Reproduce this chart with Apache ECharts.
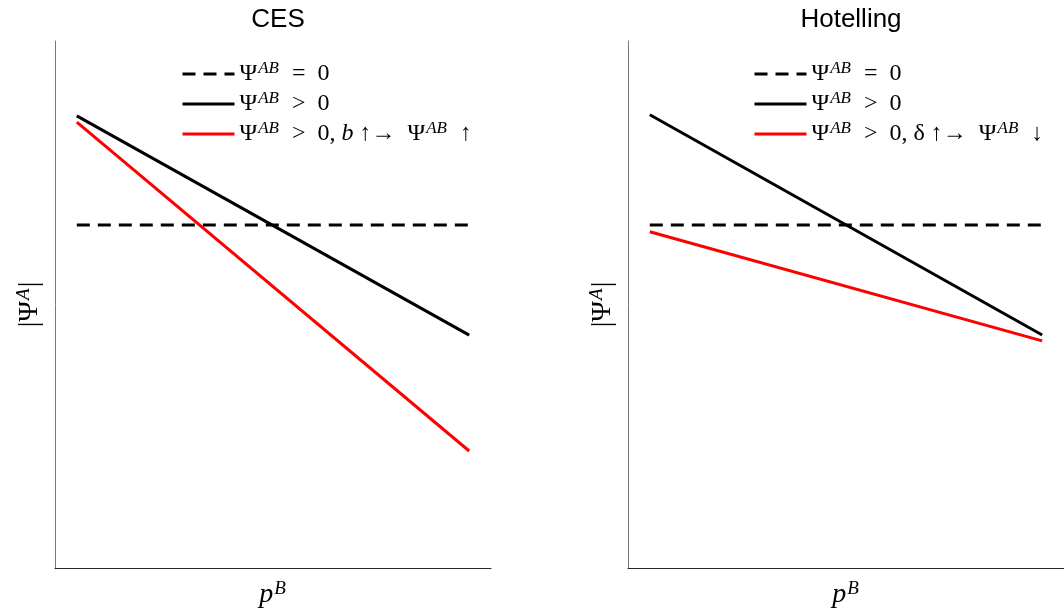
<!DOCTYPE html>
<html>
<head>
<meta charset="utf-8">
<script src="https://cdn.jsdelivr.net/npm/echarts@6/dist/echarts.min.js"></script>
<style>html,body{margin:0;padding:0;background:#fff}#c{width:1064px;height:616px}</style>
</head>
<body>
<div id="c"></div>
<script>
// ---- data ----
const panelTitles = ['CES', 'Hotelling'];
const xPos = [0.05, 0.95];
const cesZero = [0.651, 0.651];
const cesPos = [0.858, 0.442];
const cesRed = [0.846, 0.222];
const hotZero = [0.651, 0.651];
const hotPos = [0.860, 0.442];
const hotRed = [0.638, 0.431];
const legendNames = ['zero', 'pos', 'cesRed', 'hotRed'];
const legendTexts = {
  zero: '{n|Ψ}{s|AB}{n|  =  0}',
  pos: '{n|Ψ}{s|AB}{n|  >  0}',
  cesRed: '{n|Ψ}{s|AB}{n|  >  0, }{i|b}{n| ↑→  Ψ}{s|AB}{n|  ↑}',
  hotRed: '{n|Ψ}{s|AB}{n|  >  0, δ ↑→  Ψ}{s|AB}{n|  ↓}'
};

const serif = 'Liberation Serif';
const rich = {
  n: {fontFamily: serif, fontSize: 24, color: '#000', lineHeight: 28},
  i: {fontFamily: serif, fontSize: 24, fontStyle: 'italic', color: '#000', lineHeight: 28},
  s: {fontFamily: serif, fontSize: 17, fontStyle: 'italic', color: '#000', verticalAlign: 'top', lineHeight: 28, padding: [0, 1, 10, 1]}
};
const richAxis = {
  n: {fontFamily: serif, fontSize: 28, color: '#000', lineHeight: 32},
  i: {fontFamily: serif, fontSize: 28, fontStyle: 'italic', color: '#000', lineHeight: 32},
  s: {fontFamily: serif, fontSize: 19, fontStyle: 'italic', color: '#000', verticalAlign: 'top', lineHeight: 32, padding: [0, 1, 12, 1]}
};

function pairs(ys) { return xPos.map((x, k) => [x, ys[k]]); }

const grids = [
  {left: 55, top: 41, width: 436, height: 527},
  {left: 628, top: 41, width: 436, height: 527}
];
const xAxes = grids.map((g, k) => ({
  type: 'value', gridIndex: k, min: 0, max: 1,
  axisLine: {show: true, lineStyle: {color: '#262626', width: 1}},
  axisTick: {show: false}, axisLabel: {show: false}, splitLine: {show: false},
  name: '{i|p}{s|B}', nameLocation: 'middle', nameGap: 11,
  nameTextStyle: {rich: richAxis}
}));
const yAxes = grids.map((g, k) => ({
  type: 'value', gridIndex: k, min: 0, max: 1,
  axisLine: {show: true, onZero: false, lineStyle: {color: '#777', width: 1}},
  axisTick: {show: false}, axisLabel: {show: false}, splitLine: {show: false},
  name: '{n||Ψ}{s|A}{n||}', nameLocation: 'middle', nameGap: 9, nameRotate: 90,
  nameTextStyle: {rich: richAxis}
}));

function line(name, k, ys, color, dashed) {
  return {
    name: name, type: 'line', xAxisIndex: k, yAxisIndex: k,
    data: pairs(ys), symbol: 'none', silent: true, animation: false,
    lineStyle: {color: color, width: 3, type: dashed ? [13, 8] : 'solid'},
    itemStyle: {color: color}
  };
}

const series = [
  line('zero', 0, cesZero, '#000', true),
  line('pos', 0, cesPos, '#000', false),
  line('cesRed', 0, cesRed, '#ff0000', false),
  line('zero', 1, hotZero, '#000', true),
  line('pos', 1, hotPos, '#000', false),
  line('hotRed', 1, hotRed, '#ff0000', false)
];

function legend(left, names) {
  return {
    left: left, top: 55, orient: 'vertical', itemGap: 3,
    itemWidth: 52, itemHeight: 14,
    itemStyle: {opacity: 0},
    lineStyle: {width: 3},
    data: names, selectedMode: false,
    formatter: n => legendTexts[n],
    textStyle: {rich: rich, padding: [0, 0, 0, 0]}
  };
}

const chart = echarts.init(document.getElementById('c'), null, {renderer: 'canvas'});
chart.setOption({
  backgroundColor: '#fff',
  animation: false,
  title: panelTitles.map((t, k) => ({
    text: t, left: grids[k].left + grids[k].width / 2, top: 2, textAlign: 'center',
    textStyle: {fontFamily: 'Liberation Sans', fontSize: 26, fontWeight: 'normal', color: '#000'}
  })),
  legend: [legend(176, [legendNames[0], legendNames[1], legendNames[2]]),
           legend(748, [legendNames[0], legendNames[1], legendNames[3]])],
  grid: grids,
  xAxis: xAxes,
  yAxis: yAxes,
  series: series
});
</script>
</body>
</html>
